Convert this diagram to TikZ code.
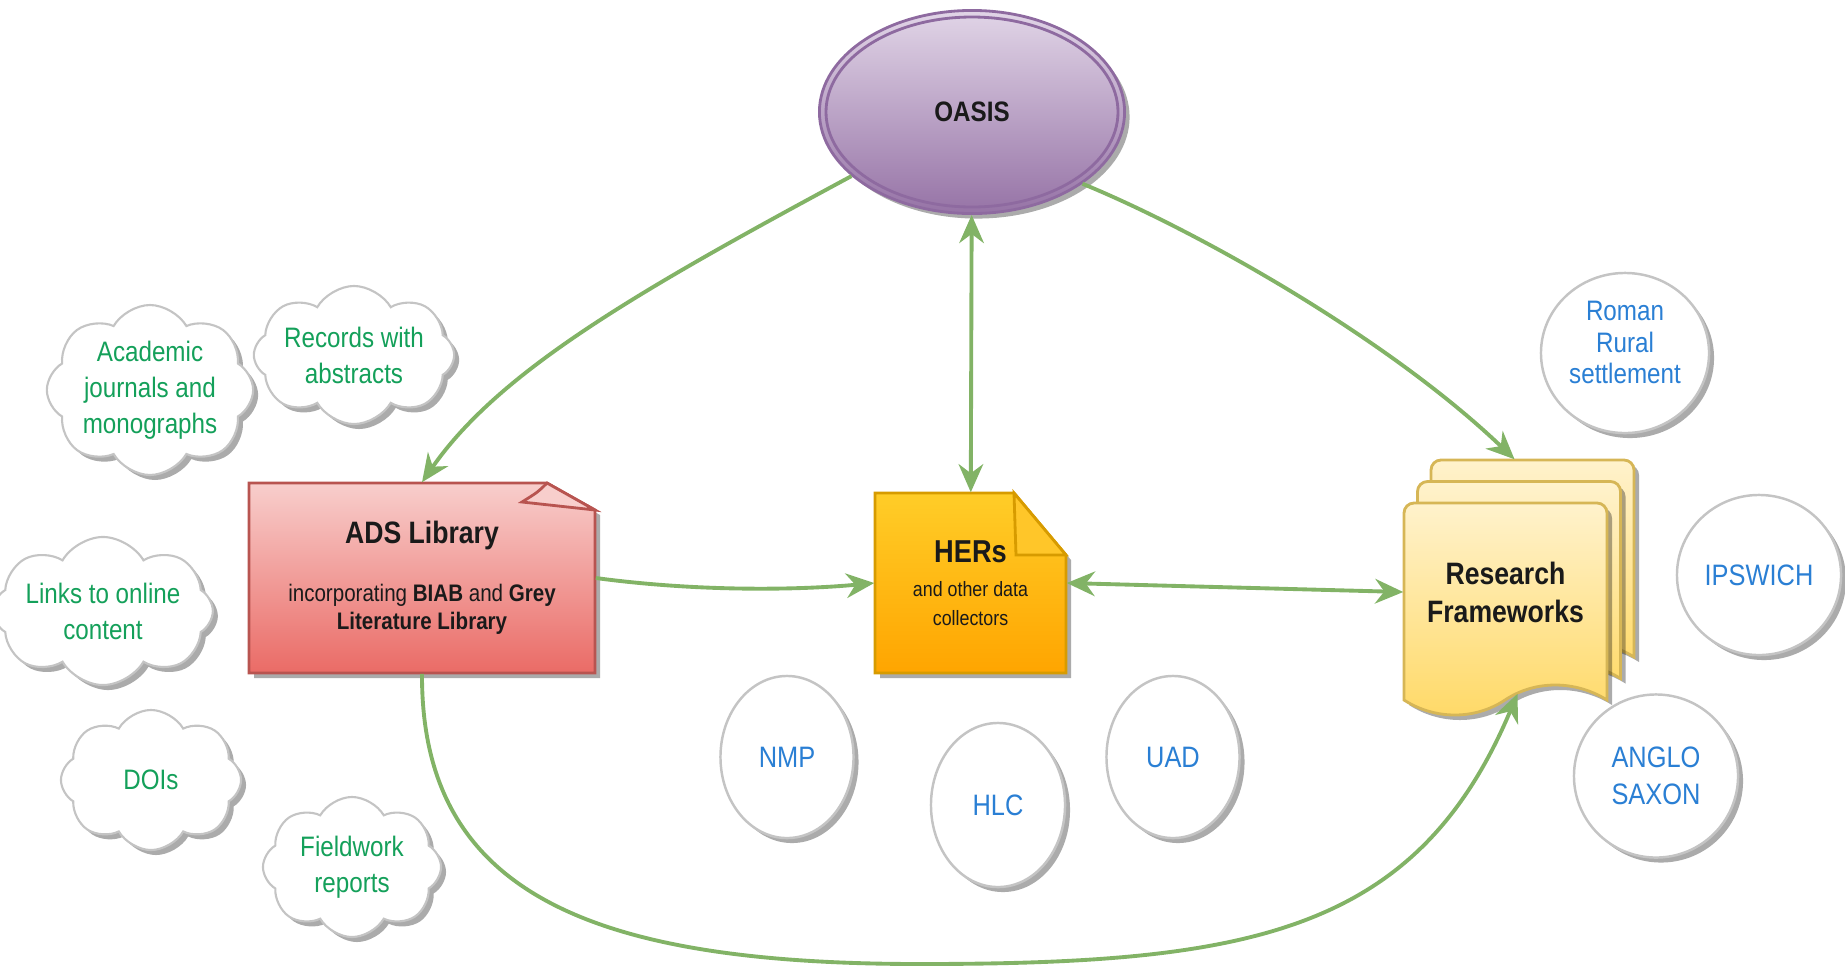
\documentclass[tikz,border=0pt]{standalone}
\usepackage{fontspec}
\setmainfont{Liberation Sans}[FakeStretch=0.86]
\usetikzlibrary{calc, arrows.meta, shapes.geometric, shapes.symbols, shadows}
\definecolor{flowgreen}{HTML}{82B366}
\definecolor{cloudtext}{HTML}{14A05A}
\definecolor{topictext}{HTML}{2A7FD4}
\definecolor{outline}{HTML}{C4C4C4}
\definecolor{ink}{HTML}{1A1A1A}
\definecolor{oasistop}{HTML}{E1D5E7}
\definecolor{oasisbot}{HTML}{9673A6}
\definecolor{oasisline}{HTML}{8E6AA0}
\definecolor{adstop}{HTML}{F8CECC}
\definecolor{adsbot}{HTML}{EA6B66}
\definecolor{adsline}{HTML}{B85450}
\definecolor{herstop}{HTML}{FFCD28}
\definecolor{hersbot}{HTML}{FFA500}
\definecolor{hersfold}{HTML}{FFC629}
\definecolor{hersline}{HTML}{D79B00}
\definecolor{rftop}{HTML}{FFF2CC}
\definecolor{rfbot}{HTML}{FFD966}
\definecolor{rfline}{HTML}{D6B656}
\tikzset{
  font=\fontsize{8}{10.2}\selectfont,
  % Set arrowhead
  >={Stealth[length=8pt, width=7pt]},
  % Green connectors
  flow/.style={draw=flowgreen, line width=1.1pt, ->},
  % Shadow under every shape
  softshadow/.style={drop shadow={shadow xshift=0.05cm, shadow yshift=-0.05cm,
      opacity=0.33, fill=black}},
  % Invisible box carrying text and anchors
  box/.style={shape=rectangle, inner sep=0pt, align=center, text=ink},
  % Main ellipse
  hub/.style={ellipse, draw=oasisline, line width=0.8pt, top color=oasistop,
    bottom color=oasisbot, softshadow, inner sep=0pt, text=ink,
    font=\fontsize{8}{9}\selectfont\bfseries},
  % Thought cloud
  puff/.style={cloud, cloud puffs=8, cloud puff arc=120, cloud ignores aspect,
    draw=outline, line width=0.6pt, fill=white, softshadow, text=cloudtext,
    align=center, inner sep=0pt},
  % Topic circle
  topic/.style={ellipse, draw=outline, line width=0.7pt, fill=white,
    softshadow, text=topictext, align=center, inner sep=0pt,
    font=\fontsize{8.4}{10.4}\selectfont},
  % Sheet outlines
  sheet/.style={softshadow, line width=0.8pt},
}

\begin{document}
\begin{tikzpicture}[x=0.01cm, y=-0.01cm]
  \useasboundingbox (0,0) rectangle (1845,966);

  % ADS Library sheet with bent corner
  \path[sheet, draw=adsline, top color=adstop, bottom color=adsbot]
    (249,483) -- (547,483) -- (595,510) -- (595,673) -- (249,673) -- cycle;
  \path[draw=adsline, line width=0.8pt, fill=adstop]
    (547,483) .. controls (538,492) .. (522,502) -- (595,510) -- cycle;

  % HERs note
  \path[sheet, draw=hersline, top color=herstop, bottom color=hersbot]
    (875,493) -- (1014,493) -- (1066,555) -- (1066,673) -- (875,673) -- cycle;
  \path[draw=hersline, line width=0.8pt, fill=hersfold]
    (1014,493) -- (1016,555) -- (1066,555) -- cycle;

  % Research Frameworks stack
  \foreach \s in {2,1,0}
    \path[sheet, draw=rfline, top color=rftop, bottom color=rfbot,
      shift={(13.5*\s,-21.5*\s)}]
      (1404,700) -- (1404,600) [rounded corners=0.1cm] -- (1404,503)
      -- (1607,503) -- (1607,600) [sharp corners] -- (1607,700)
      .. controls (1575,680) and (1535,680) .. (1505,700)
      .. controls (1475,720) and (1435,720) .. cycle;

  \node[hub, minimum width=3.05cm, minimum height=2.03cm] (oasis) at (972,112) {OASIS};
  \draw[oasisline, line width=0.8pt] (oasis.center) ellipse [x radius=146, y radius=95];

  \node[box, minimum width=3.46cm, minimum height=1.90cm, font=\fontsize{6.8}{8}\selectfont] (ads) at (422,578)
    {{\fontsize{8.8}{10}\selectfont\bfseries ADS Library}\\[8.6pt]
     incorporating \textbf{BIAB} and \textbf{Grey}\\ \textbf{Literature Library}};
  \node[box, minimum width=1.91cm, minimum height=1.80cm, font=\fontsize{5.9}{8.25}\selectfont] (hers) at (970.5,583)
    {{\fontsize{9}{10}\selectfont\bfseries HERs}\\[1.5pt] and other data\\ collectors};
  \node[box, minimum width=2.03cm, minimum height=1.78cm, font=\fontsize{8.8}{10.8}\selectfont\bfseries] (rf) at (1505.5,592)
    {Research\\ Frameworks};
  \coordinate (stacktop) at ($(rf.north)+(9,-43)$);
  \coordinate (wavetip) at ($(rf.south)+(12,12)$);

  % Clouds
  \node[puff, minimum width=2.05cm, minimum height=1.68cm] (journals) at (150,390) {Academic\\ journals and\\ monographs};
  \node[puff, minimum width=1.78cm, minimum height=1.38cm] (records) at (354,355) {Records with\\ abstracts};
  \node[puff, minimum width=1.85cm, minimum height=1.48cm] (links) at (103,611) {Links to online\\ content};
  \node[puff, minimum width=1.80cm, minimum height=1.40cm] (dois) at (151,780) {DOIs};
  \node[puff, minimum width=1.78cm, minimum height=1.40cm] (fieldwork) at (352,867) {Fieldwork\\ reports};

  % Circles
  \node[topic, minimum width=1.33cm, minimum height=1.62cm] (nmp) at (787,757) {NMP};
  \node[topic, minimum width=1.34cm, minimum height=1.64cm] (hlc) at (998,805) {HLC};
  \node[topic, minimum width=1.33cm, minimum height=1.62cm] (uad) at (1173,757) {UAD};
  \node[topic, minimum width=1.68cm, minimum height=1.60cm, text depth=6pt,
    font=\fontsize{8}{9}\selectfont] (roman) at (1625,353) {Roman\\ Rural\\ settlement};
  \node[topic, minimum width=1.64cm, minimum height=1.60cm] (ipswich) at (1759,575) {IPSWICH};
  \node[topic, minimum width=1.64cm, minimum height=1.63cm] (anglo) at (1656,776) {ANGLO\\ SAXON};

  % Connectors
  \draw[flow] (oasis.208) .. controls (640,290) and (500,370) .. (ads.north);
  \draw[flow, <->] (oasis) -- (hers);
  \draw[flow] (oasis.327) .. controls (1200,232) and (1390,340) .. (stacktop);
  \draw[flow] (ads.east) .. controls (700,592) and (800,590) .. (hers.west);
  \draw[flow, <->] (hers.east) -- (rf.west);
  \draw[flow] (ads.south) .. controls (421,893) and (590,964) .. (920,964)
    .. controls (1250,964) and (1417,933) .. (wavetip);
\end{tikzpicture}
\end{document}
